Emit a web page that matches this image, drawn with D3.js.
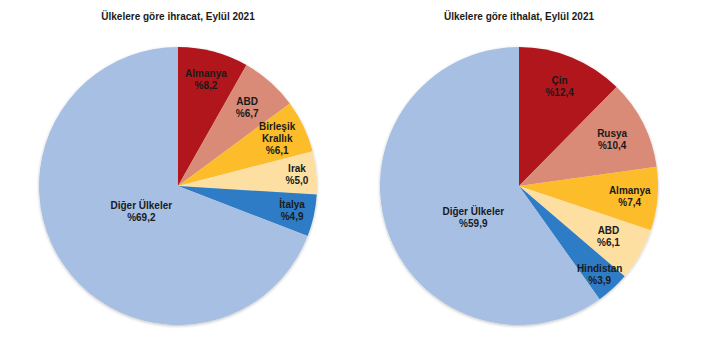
<!DOCTYPE html>
<html>
<head>
<meta charset="utf-8">
<script src="https://cdn.jsdelivr.net/npm/d3@7"></script>
<style>
  html, body { margin: 0; padding: 0; background: #ffffff; }
  svg { display: block; font-family: "Liberation Sans", Arial, sans-serif; }
</style>
</head>
<body>
<svg id="chart" width="721" height="338"></svg>
<script>
// Export shares by country, September 2021
const exportCountries = ["Almanya", "ABD", "Birleşik Krallık", "Irak", "İtalya", "Diğer Ülkeler"];
const exportShares = [8.2, 6.7, 6.1, 5.0, 4.9, 69.2];

// Import shares by country, September 2021
const importCountries = ["Çin", "Rusya", "Almanya", "ABD", "Hindistan", "Diğer Ülkeler"];
const importShares = [12.4, 10.4, 7.4, 6.1, 3.9, 59.9];

const titles = ["Ülkelere göre ihracat, Eylül 2021", "Ülkelere göre ithalat, Eylül 2021"];

// Slice colours in slice order
const sliceColors = ["#b0161b", "#d98b78", "#fdbd2b", "#fddfa2", "#2e7cc6", "#a7bfe3"];

const svg = d3.select("#chart");

const defs = svg.append("defs");
const shadow = defs.append("filter").attr("id", "soft").attr("x", "-10%").attr("y", "-10%")
  .attr("width", "120%").attr("height", "120%");
shadow.append("feDropShadow").attr("dx", 0).attr("dy", 1).attr("stdDeviation", 1.5)
  .attr("flood-color", "#000").attr("flood-opacity", 0.25);

const radius = 139;

// Layout of each pie: centre, label distance (fraction of radius) per slice,
// and an angular nudge (degrees) per slice label
const layouts = [
  { center: [178, 186], labelR: [0.79, 0.75, 0.79, 0.86, 0.84, 0.32], labelShift: [0, 0, 0, 0, 0, 0] },
  { center: [519, 186], labelR: [0.77, 0.75, 0.80, 0.74, 0.86, 0.40], labelShift: [0, 0, 0, 0, 0, -17] }
];

// Multi-line labels: the long country name wraps onto two lines
const splitName = name => name === "Birleşik Krallık" ? ["Birleşik", "Krallık"] : [name];
const fmt = v => "%" + d3.format(".1f")(v).replace(".", ",");

function drawPie(names, values, layout, title) {
  const center = layout.center;
  const g = svg.append("g").attr("transform", `translate(${center[0]},${center[1]})`);

  svg.append("text")
    .attr("x", center[0]).attr("y", 20)
    .attr("text-anchor", "middle")
    .attr("font-size", 10).attr("font-weight", "bold").attr("fill", "#1a1a1a")
    .text(title);

  const data = names.map((n, i) => ({ name: n, value: values[i], idx: i }));
  const pie = d3.pie().sort(null).value(d => d.value);
  const arcs = pie(data);

  const arc = d3.arc().innerRadius(0).outerRadius(radius);

  g.append("g").attr("filter", "url(#soft)")
    .selectAll("path").data(arcs).join("path")
    .attr("d", arc)
    .attr("fill", d => sliceColors[d.data.idx]);

  const labels = g.selectAll("text.lbl").data(arcs).join("text")
    .attr("class", "lbl")
    .attr("text-anchor", "middle")
    .attr("font-size", 10).attr("font-weight", "bold").attr("fill", "#1a1a1a")
    .attr("transform", d => {
      const i = d.data.idx;
      const r = radius * layout.labelR[i];
      const shift = layout.labelShift[i] * Math.PI / 180;
      const labelArc = d3.arc().innerRadius(r).outerRadius(r);
      const c = labelArc.centroid({ startAngle: d.startAngle + shift, endAngle: d.endAngle + shift });
      return `translate(${c[0]},${c[1]})`;
    });

  labels.each(function(d) {
    const lines = splitName(d.data.name).concat([fmt(d.data.value)]);
    const t = d3.select(this);
    const lh = 12;
    const y0 = -(lines.length - 1) * lh / 2 + 3.5;
    lines.forEach((ln, i) => {
      t.append("tspan").attr("x", 0).attr("y", y0 + i * lh).text(ln);
    });
  });
}

drawPie(exportCountries, exportShares, layouts[0], titles[0]);
drawPie(importCountries, importShares, layouts[1], titles[1]);
</script>
</body>
</html>
